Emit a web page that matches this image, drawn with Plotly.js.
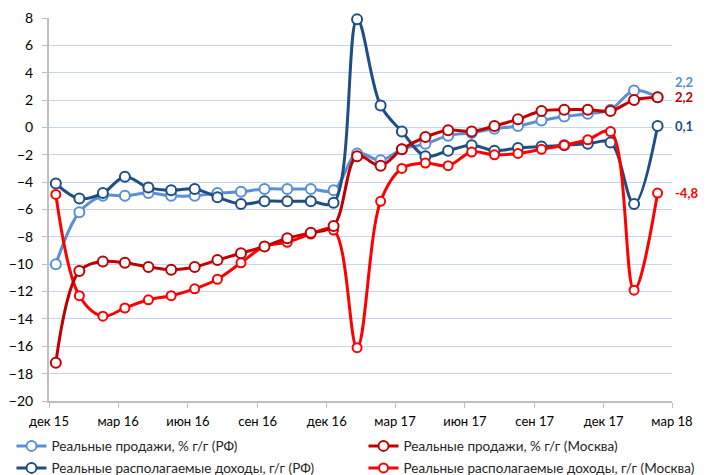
<!DOCTYPE html>
<html>
<head>
<meta charset="utf-8">
<script src="https://cdn.plot.ly/plotly-3.0.1.min.js"></script>
<style>html,body{margin:0;padding:0;background:#fff;}#chart{width:710px;height:475px;}</style>
</head>
<body>
<div id="chart"></div>
<script>
const months = ['2015-12','2016-01','2016-02','2016-03','2016-04','2016-05','2016-06','2016-07','2016-08','2016-09','2016-10','2016-11','2016-12',
  '2017-01','2017-02','2017-03','2017-04','2017-05','2017-06','2017-07','2017-08','2017-09','2017-10','2017-11','2017-12','2018-01','2018-02'];

const salesRF = [-10.0,-6.2,-5.0,-5.0,-4.8,-5.0,-5.0,-4.8,-4.7,-4.5,-4.5,-4.5,-4.6,
  -1.9,-2.4,-1.6,-1.2,-0.6,-0.4,-0.1,0.1,0.5,0.8,1.0,1.3,2.7,2.2];
const salesMoscow = [-17.2,-10.5,-9.8,-9.9,-10.2,-10.4,-10.2,-9.7,-9.2,-8.7,-8.1,-7.7,-7.2,
  -2.1,-2.8,-1.6,-0.7,-0.2,-0.3,0.1,0.6,1.2,1.3,1.3,1.2,2.0,2.2];
const incomeRF = [-4.1,-5.2,-4.8,-3.6,-4.4,-4.6,-4.5,-5.1,-5.6,-5.4,-5.4,-5.4,-5.5,
  7.9,1.6,-0.3,-2.1,-1.7,-1.3,-1.7,-1.5,-1.4,-1.3,-1.2,-1.1,-5.6,0.1];
const incomeMoscow = [-4.9,-12.3,-13.8,-13.2,-12.6,-12.3,-11.8,-11.1,-9.9,-8.7,-8.4,-7.8,-7.5,
  -16.1,-5.4,-3.0,-2.6,-2.8,-1.8,-2.0,-1.9,-1.6,-1.3,-0.9,-0.3,-11.9,-4.8];

const tickDates = ['2015-12-01','2016-03-01','2016-06-01','2016-09-01','2016-12-01','2017-03-01','2017-06-01','2017-09-01','2017-12-01','2018-03-01'];
const tickLabels = ['дек 15','мар 16','июн 16','сен 16','дек 16','мар 17','июн 17','сен 17','дек 17','мар 18'];

const names = ['Реальные продажи, % г/г (РФ)','Реальные продажи, % г/г (Москва)','Реальные располагаемые доходы, г/г (РФ)','Реальные располагаемые доходы, г/г (Москва)'];

const x = months.map(m => m + '-10');

const cLight = '#5A8FD3', cDark = '#1F4E85', cDarkRed = '#C00000', cRed = '#FF0000';

function tr(y, name, color, msize, leg) {
  return {
    x: x, y: y, name: name, type: 'scatter', mode: 'lines+markers', cliponaxis: false,
    line: {color: color, width: 3, shape: 'spline', smoothing: 1},
    marker: {size: msize, color: '#FFFFFF', line: {color: color, width: 2}},
    legend: leg
  };
}

const data = [
  tr(salesRF, names[0], cLight, 10, 'legend'),
  tr(incomeRF, names[2], cDark, 10, 'legend3'),
  tr(incomeMoscow, names[3], cRed, 9, 'legend4'),
  tr(salesMoscow, names[1], cDarkRed, 10, 'legend2')
];

const fmt = v => v.toFixed(1).replace('.', ',');
const last = x.length - 1;
const labelSeries = [
  {y: salesRF, color: cLight, shift: 15},
  {y: salesMoscow, color: cDarkRed, shift: 0},
  {y: incomeRF, color: cDark, shift: 0},
  {y: incomeMoscow, color: cRed, shift: 0}
];
const annotations = labelSeries.map(s => ({
  x: x[last], y: s.y[last], xref: 'x', yref: 'y', text: '<b>' + fmt(s.y[last]) + '</b>',
  showarrow: false, xanchor: 'left', yanchor: 'middle', xshift: 15, yshift: s.shift,
  font: {family: 'Lato, sans-serif', size: 13, color: s.color}
}));

function leg(xpx, ytop) {
  return {
    orientation: 'h', xref: 'container', yref: 'container',
    x: xpx / 710, xanchor: 'left', y: 1 - ytop / 475, yanchor: 'top',
    font: {family: 'Lato, sans-serif', size: 13.5, color: '#262626'}, bgcolor: 'rgba(0,0,0,0)'
  };
}

const layout = {
  width: 710, height: 475,
  margin: {l: 49, r: 38, t: 18, b: 74},
  paper_bgcolor: '#FFFFFF', plot_bgcolor: '#FFFFFF',
  showlegend: true,
  font: {family: 'Lato, sans-serif', size: 14, color: '#000000'},
  xaxis: {
    type: 'date', range: ['2015-12-01', '2018-03-01'],
    tickmode: 'array', tickvals: tickDates, ticktext: tickLabels,
    showgrid: false, zeroline: false,
    showline: true, linecolor: '#BFBFBF', linewidth: 2,
    ticks: 'outside', ticklen: 5, tickcolor: '#BFBFBF', tickwidth: 1,
    ticklabelstandoff: 2,
    tickfont: {size: 13, color: '#000000'}
  },
  yaxis: {
    range: [-20, 8], tickmode: 'linear', tick0: -20, dtick: 2,
    showgrid: true, gridcolor: '#C5D5EE', gridwidth: 1, zeroline: false,
    showline: true, linecolor: '#BFBFBF', linewidth: 2,
    ticks: 'outside', ticklen: 5, tickcolor: '#BFBFBF', tickwidth: 1,
    ticklabelstandoff: 6,
    tickfont: {size: 14, color: '#000000'}
  },
  legend: leg(11.5, 430.6),
  legend2: leg(363.5, 430.6),
  legend3: leg(11.5, 452.6),
  legend4: leg(363.5, 452.6),
  annotations: annotations
};

Plotly.newPlot('chart', data, layout, {displayModeBar: false, staticPlot: true});
</script>
</body>
</html>
